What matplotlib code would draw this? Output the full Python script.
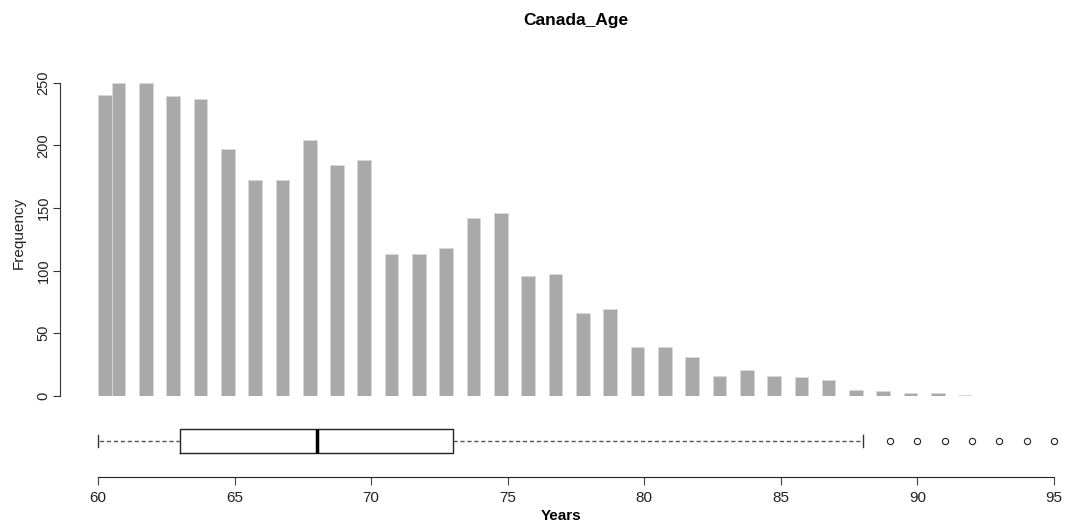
import numpy as np
import matplotlib.pyplot as plt

plt.rcParams['font.family'] = ['Liberation Sans', 'DejaVu Sans']

# Histogram counts per age (each integer age sits in a 0.5 wide bin)
ages = np.arange(60, 93)
counts = [240, 250, 250, 239, 237, 197, 172, 172, 204, 184, 188,
          113, 113, 118, 142, 146, 96, 97, 66, 69, 39, 39, 31,
          16, 21, 16, 15, 13, 5, 4, 2, 2, 1]

# Boxplot summary
box_stats = [{
    'whislo': 60, 'q1': 63, 'med': 68, 'q3': 73, 'whishi': 88,
    'fliers': [89, 90, 91, 92, 93, 94, 95],
}]

x_ticks = [60, 65, 70, 75, 80, 85, 90, 95]
y_ticks = [0, 50, 100, 150, 200, 250]

W, H = 1067, 524
fig = plt.figure(figsize=(W / 100, H / 100), dpi=100)

px_per_year = (1054 - 98) / 35
ax_left, ax_right = 59.5, 1062
xmin = 60 - (98 - ax_left) / px_per_year
xmax = 95 + (ax_right - 1054) / px_per_year


def fig_rect(left, top, right, bottom):
    return [left / W, 1 - bottom / H, (right - left) / W, (bottom - top) / H]


# ---- top: histogram ----
ax = fig.add_axes(fig_rect(ax_left, 70, ax_right, 396))
left_edges = np.where(ages == 60, 60.0, ages - 0.5)
ax.bar(left_edges, counts, width=0.5, align='edge', color='#A9A9A9',
       edgecolor='#D8D8D8', linewidth=0.6)
ax.set_xlim(xmin, xmax)
ax.set_ylim(0, (396 - 70) / ((396 - 82.5) / 250))
for s in ['top', 'right', 'bottom']:
    ax.spines[s].set_visible(False)
ax.spines['left'].set_bounds(0, 250)
ax.spines['left'].set_color('#333333')
ax.set_xticks([])
ax.set_yticks(y_ticks)
ax.tick_params(axis='y', length=5, width=0.8, color='#333333', pad=1.5,
               labelsize=10.5, labelrotation=90, labelcolor='#222222')
for lab in ax.get_yticklabels():
    lab.set_va('center')
ax.set_ylabel('Frequency', fontsize=11, color='#222222', labelpad=8)

# title sits in the outer margin, centred over the plot
fig.text(576 / W, 1 - 20 / H, 'Canada_Age', ha='center', va='center',
         fontsize=12.5, fontweight='bold')

# ---- bottom: boxplot ----
bx = fig.add_axes(fig_rect(ax_left, 420, ax_right, 477))
bx.bxp(box_stats, positions=[(477 - 441) / 57], widths=24 / 57,
       vert=False, capwidths=12 / 57,
       boxprops=dict(color='#222222', linewidth=1),
       medianprops=dict(color='black', linewidth=2.5),
       whiskerprops=dict(color='#555555', linewidth=1, linestyle=(0, (3, 2))),
       capprops=dict(color='#333333', linewidth=1),
       flierprops=dict(marker='o', markerfacecolor='none',
                       markeredgecolor='#222222', markersize=4.5,
                       markeredgewidth=0.8))
bx.set_xlim(xmin, xmax)
bx.set_ylim(0, 1)
for s in ['top', 'right', 'left']:
    bx.spines[s].set_visible(False)
bx.spines['bottom'].set_bounds(60, 95)
bx.spines['bottom'].set_color('#222222')
bx.set_yticks([])
bx.set_xticks(x_ticks)
bx.set_xticklabels([str(t) for t in x_ticks])
bx.tick_params(axis='x', length=6, width=0.8, color='#444444', pad=4,
               labelsize=11, labelcolor='#222222')
bx.set_xlabel('Years', fontsize=11, fontweight='bold', labelpad=3)

fig.savefig('out.png', dpi=100)
